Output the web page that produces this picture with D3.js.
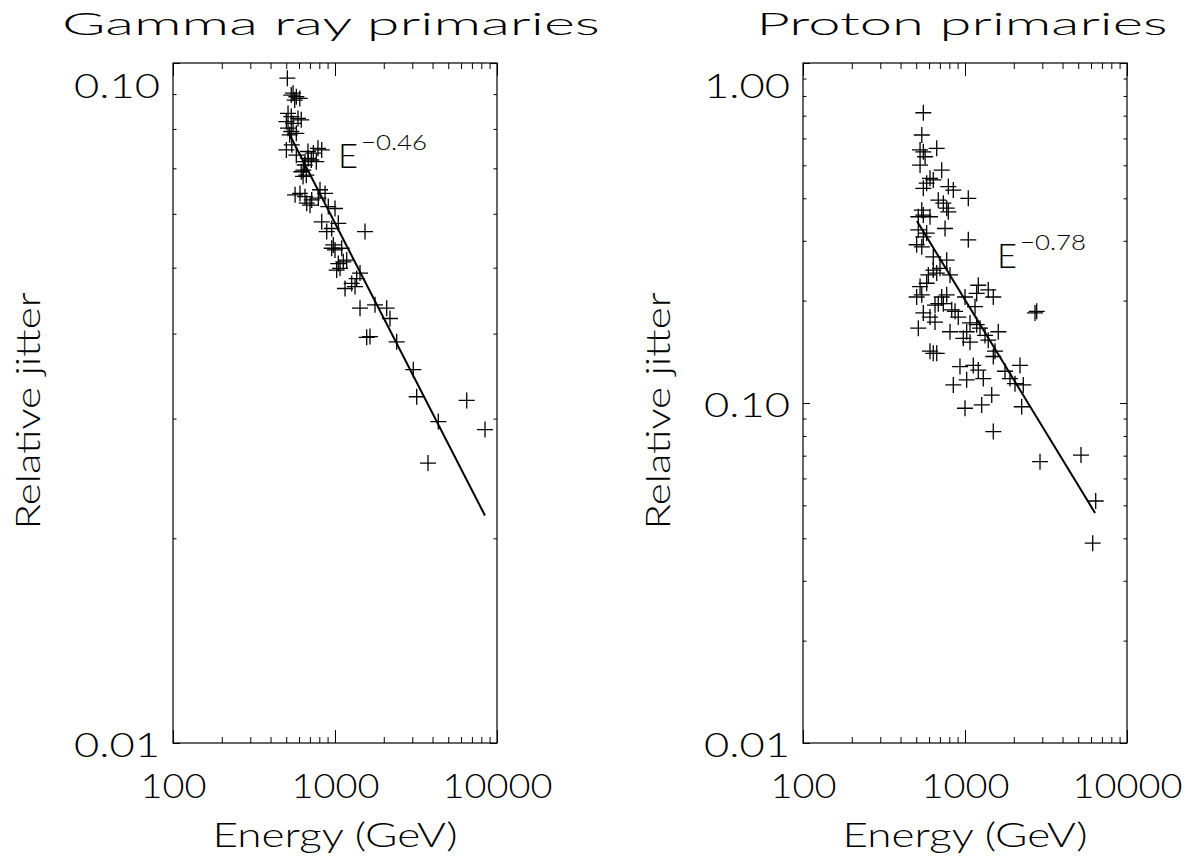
<!DOCTYPE html>
<html><head><meta charset="utf-8">
<script src="https://cdn.jsdelivr.net/npm/d3@7"></script>
<style>
body{margin:0;background:#fff}
svg text{font-family:Lato,'DejaVu Sans',sans-serif;font-weight:300;fill:#000}
</style>
</head><body>
<svg id="chart" width="1193" height="861"></svg>
<script>
// ---------- data ----------
const panelTitles = ["Gamma ray primaries", "Proton primaries"];
const xAxisTitle = "Energy (GeV)";
const yAxisTitle = "Relative jitter";
const xTickValues = [100, 1000, 10000];
const xTickLabels = ["100", "1000", "10000"];
const gammaYTickValues = [0.01, 0.1];
const gammaYTickLabels = ["0.01", "0.10"];
const protonYTickValues = [0.01, 0.1, 1];
const protonYTickLabels = ["0.01", "0.10", "1.00"];

const gammaE = [508,537,577,606,564,551,513,537,591,501,551,513,537,577,525,619,501,577,681,785,714,767,650,619,665,635,541,828,735,684,653,637,567,608,653,808,868,718,669,701,789,909,1000,828,954,889,1048,1532,976,1000,1100,954,1048,1125,1181,1074,1024,1427,1361,1268,1153,1329,1427,1766,2085,2185,1569,1644,2403,3043,3194,6502,4342,8433,3751];
const gammaJ = [0.0950,0.0897,0.0892,0.0887,0.0882,0.0903,0.0843,0.0834,0.0829,0.0820,0.0815,0.0802,0.0793,0.0788,0.0784,0.0825,0.0745,0.0732,0.0741,0.0749,0.0720,0.0716,0.0708,0.0692,0.0684,0.0681,0.0758,0.0745,0.0737,0.0724,0.0716,0.0696,0.0640,0.0643,0.0636,0.0651,0.0643,0.0629,0.0622,0.0618,0.0633,0.0615,0.0611,0.0584,0.0571,0.0565,0.0581,0.0565,0.0540,0.0531,0.0534,0.0534,0.0507,0.0510,0.0513,0.0499,0.0496,0.0491,0.0482,0.0474,0.0466,0.0469,0.0436,0.0441,0.0436,0.0421,0.0395,0.0396,0.0389,0.0354,0.0323,0.0319,0.0297,0.0289,0.0258];
const gammaFitE = [527, 8430];
const gammaFitJ = [0.0783, 0.0216];
const gammaIndex = "−0.46";

const protonE = [553,541,669,553,528,567,528,718,608,637,580,553,789,847,1048,684,735,771,789,541,553,608,515,753,1048,515,580,553,503,541,637,771,701,637,594,808,669,580,528,503,541,718,771,684,735,653,1000,1208,1392,1495,1181,1153,828,868,909,553,608,653,515,2705,2771,1074,1181,1238,1024,808,976,1074,1329,1392,1605,1532,608,669,637,931,1125,1208,1297,1024,847,1766,2185,1896,2035,2290,1462,1268,1000,2239,1495,2904,5200,6410,6142,1495];
const protonJ = [0.714,0.614,0.561,0.548,0.555,0.530,0.501,0.484,0.458,0.453,0.443,0.428,0.433,0.423,0.400,0.395,0.387,0.374,0.365,0.369,0.357,0.353,0.353,0.326,0.302,0.323,0.316,0.308,0.292,0.288,0.269,0.263,0.249,0.246,0.238,0.238,0.241,0.225,0.220,0.205,0.208,0.205,0.208,0.196,0.196,0.194,0.205,0.222,0.215,0.205,0.210,0.192,0.188,0.186,0.179,0.184,0.179,0.173,0.166,0.184,0.186,0.172,0.170,0.166,0.162,0.162,0.155,0.151,0.158,0.153,0.162,0.142,0.142,0.140,0.140,0.128,0.129,0.125,0.118,0.117,0.113,0.124,0.129,0.118,0.114,0.113,0.1055,0.0987,0.0965,0.0975,0.0824,0.0672,0.0703,0.0515,0.0387,0.137];
const protonFitE = [505, 6350];
const protonFitJ = [0.343, 0.0475];
const protonIndex = "−0.78";

// ---------- layout ----------
const svg = d3.select("#chart");
svg.append("rect").attr("width",1193).attr("height",861).attr("fill","#fff");
const TOP = 63, BOTTOM = 743, PW = 324;

function minorTicks(lo, hi) {
  const out = [];
  for (let d = lo; d < hi; d *= 10)
    for (let k = 2; k <= 9; k++) if (k*d < hi) out.push(+(k*d).toPrecision(3));
  return out;
}
// Hershey-like wide glyph widths
const labelWidth = s => [...s].reduce((w, c) => w + (c === "." ? 20 : 22), 0);

function drawPanel(cfg) {
  const g = svg.append("g");
  const x = d3.scaleLog().domain([100, 10000]).range([cfg.left, cfg.left + PW]);
  const y = d3.scaleLog().domain(cfg.yDomain).range([BOTTOM, TOP]);
  const xMinor = minorTicks(100, 10000);
  const yMinor = minorTicks(cfg.yDomain[0], cfg.yDomain[1]);

  const styleAxis = sel => {
    sel.select(".domain").remove();
    sel.selectAll(".tick line").attr("stroke", "#000").attr("stroke-width", 1);
  };

  // bottom axis
  g.append("g").attr("transform", `translate(0,${BOTTOM})`)
    .call(d3.axisBottom(x).tickValues(xMinor).tickSize(-6).tickFormat(""))
    .call(styleAxis).selectAll("text").remove();
  const xb = g.append("g").attr("transform", `translate(0,${BOTTOM})`)
    .call(d3.axisBottom(x).tickValues(xTickValues).tickSize(-13).tickPadding(32)
      .tickFormat((d,i) => xTickLabels[i]))
    .call(styleAxis);
  xb.selectAll("text").attr("font-size", 33).attr("font-family", null)
    .attr("textLength", function(){ return labelWidth(this.textContent); })
    .attr("lengthAdjust", "spacingAndGlyphs");
  // top axis
  g.append("g").attr("transform", `translate(0,${TOP})`)
    .call(d3.axisTop(x).tickValues(xMinor).tickSize(-6).tickFormat(""))
    .call(styleAxis);
  g.append("g").attr("transform", `translate(0,${TOP})`)
    .call(d3.axisTop(x).tickValues(xTickValues).tickSize(-13).tickFormat(""))
    .call(styleAxis);

  // left axis
  g.append("g").attr("transform", `translate(${cfg.left},0)`)
    .call(d3.axisLeft(y).tickValues(yMinor).tickSize(-3.5).tickFormat(""))
    .call(styleAxis);
  const yl = g.append("g").attr("transform", `translate(${cfg.left},0)`)
    .call(d3.axisLeft(y).tickValues(cfg.yTicks).tickSize(-7).tickPadding(13)
      .tickFormat((d,i) => cfg.yLabels[i]))
    .call(styleAxis);
  yl.selectAll("text").attr("font-size", 33).attr("font-family", null)
    .attr("textLength", function(){ return labelWidth(this.textContent); })
    .attr("lengthAdjust", "spacingAndGlyphs")
    .attr("dy", d => d === cfg.yDomain[1] ? "1.05em" : "0.4em");
  // right axis
  g.append("g").attr("transform", `translate(${cfg.left + PW},0)`)
    .call(d3.axisRight(y).tickValues(yMinor).tickSize(-3.5).tickFormat(""))
    .call(styleAxis);
  g.append("g").attr("transform", `translate(${cfg.left + PW},0)`)
    .call(d3.axisRight(y).tickValues(cfg.yTicks).tickSize(-7).tickFormat(""))
    .call(styleAxis);

  // frame
  g.append("rect").attr("x", cfg.left).attr("y", TOP).attr("width", PW)
    .attr("height", BOTTOM - TOP).attr("fill", "none").attr("stroke", "#000").attr("stroke-width", 1.2);

  // points
  const pts = cfg.E.map((e, i) => [e, cfg.J[i]]);
  g.append("g").selectAll("path").data(pts).join("path")
    .attr("transform", d => `translate(${x(d[0])},${y(d[1])})`)
    .attr("d", "M-8,0H8M0,-8V8")
    .attr("stroke", "#000").attr("stroke-width", 1.3).attr("fill", "none");

  // fit line
  const fit = cfg.fitE.map((e, i) => [e, cfg.fitJ[i]]);
  g.append("path").datum(fit)
    .attr("d", d3.line().x(d => x(d[0])).y(d => y(d[1])))
    .attr("stroke", "#000").attr("stroke-width", 2).attr("fill", "none");

  // annotation
  const ax = x(cfg.annE), ay = y(cfg.annJ);
  g.append("text").attr("x", ax).attr("y", ay).attr("font-size", 34)
    .attr("textLength", 20).attr("lengthAdjust", "spacingAndGlyphs").text("E");
  g.append("text").attr("x", ax + 23).attr("y", ay - 18).attr("font-size", 22)
    .attr("textLength", 66).attr("lengthAdjust", "spacingAndGlyphs").text(cfg.index);

  // titles
  const cx = cfg.left + PW / 2;
  g.append("text").attr("x", cx + cfg.titleDx).attr("y", 35).attr("text-anchor", "middle")
    .attr("font-size", 32).attr("textLength", cfg.titleLen).attr("lengthAdjust", "spacingAndGlyphs")
    .text(cfg.title);
  g.append("text").attr("x", cx).attr("y", 847).attr("text-anchor", "middle")
    .attr("font-size", 33).attr("textLength", 245).attr("lengthAdjust", "spacingAndGlyphs")
    .text(xAxisTitle);
  g.append("text").attr("transform", `translate(${cfg.left - 133},411) rotate(-90)`)
    .attr("text-anchor", "middle")
    .attr("font-size", 33).attr("textLength", 237).attr("lengthAdjust", "spacingAndGlyphs")
    .text(yAxisTitle);
}

drawPanel({left: 173, yDomain: [0.01, 0.1], yTicks: gammaYTickValues, yLabels: gammaYTickLabels,
  E: gammaE, J: gammaJ, fitE: gammaFitE, fitJ: gammaFitJ, index: gammaIndex,
  annE: 1045, annJ: 0.0700, title: panelTitles[0], titleLen: 538, titleDx: -4});
drawPanel({left: 803, yDomain: [0.01, 1], yTicks: protonYTickValues, yLabels: protonYTickLabels,
  E: protonE, J: protonJ, fitE: protonFitE, fitJ: protonFitJ, index: protonIndex,
  annE: 1574, annJ: 0.249, title: panelTitles[1], titleLen: 411, titleDx: -3});
</script>
</body></html>
